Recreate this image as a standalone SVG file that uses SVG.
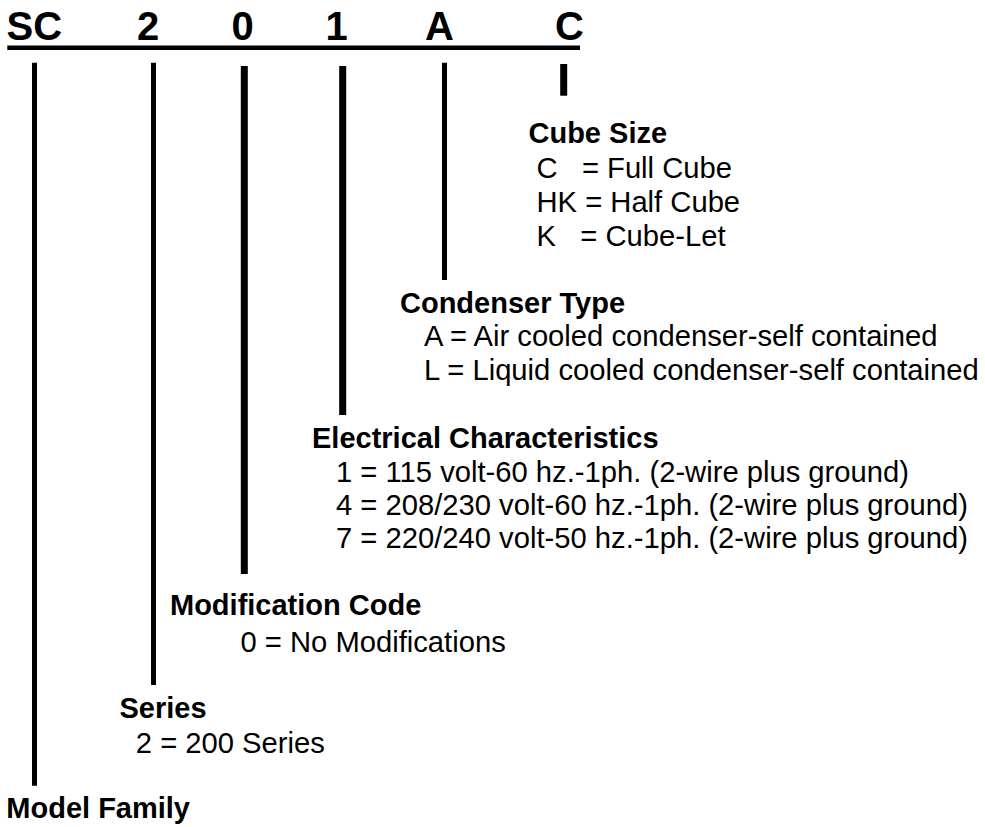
<svg xmlns="http://www.w3.org/2000/svg" width="985" height="827" viewBox="0 0 985 827">
  <style>
    text { font-family: "Liberation Sans", Arial, Helvetica, sans-serif; fill: #000; }
    .code { font-size: 40px; font-weight: bold; }
    .title { font-size: 29px; font-weight: bold; }
    .item { font-size: 29.2px; }
    .lead { stroke: #000; stroke-width: 5; fill: none; }
    .lead.heavy { stroke-width: 7; }
  </style>
  <rect width="985" height="827" fill="#fff"/>

  <g id="model-code">
    <text class="code"><tspan x="6.5" y="40">SC</tspan><tspan x="137" y="40">2</tspan><tspan x="231.5" y="40">0</tspan><tspan x="325.6" y="40">1</tspan><tspan x="425" y="40">A</tspan><tspan x="555" y="40">C</tspan></text>
    <line x1="7.3" y1="47.7" x2="580" y2="47.7" stroke="#000" stroke-width="4.5"/>
  </g>

  <g id="connectors">
    <line class="lead" x1="34.5" y1="62.7" x2="34.5" y2="785.7"/>
    <line class="lead" x1="153.5" y1="62.7" x2="153.5" y2="685"/>
    <line class="lead heavy" x1="244.3" y1="66" x2="244.3" y2="574"/>
    <line class="lead heavy" x1="342.7" y1="66" x2="342.7" y2="415"/>
    <line class="lead" x1="444.5" y1="62.7" x2="444.5" y2="280"/>
    <line class="lead heavy" x1="563.7" y1="64" x2="563.7" y2="95.7"/>
  </g>

  <g id="cube-size">
    <text class="title" x="528.5" y="143">Cube Size</text>
    <text class="item" x="536.5" y="178">C&#160;&#160;&#160;= Full Cube</text>
    <text class="item" x="536.5" y="212">HK = Half Cube</text>
    <text class="item" x="536.5" y="246">K&#160;&#160;&#160;= Cube-Let</text>
  </g>

  <g id="condenser-type">
    <text class="title" x="400" y="313">Condenser Type</text>
    <text class="item" x="424" y="346">A = Air cooled condenser-self contained</text>
    <text class="item" x="424" y="380">L = Liquid cooled condenser-self contained</text>
  </g>

  <g id="electrical-characteristics">
    <text class="title" x="312" y="448">Electrical Characteristics</text>
    <text class="item" x="336" y="482">1 = 115 volt-60 hz.-1ph. (2-wire plus ground)</text>
    <text class="item" x="336" y="515">4 = 208/230 volt-60 hz.-1ph. (2-wire plus ground)</text>
    <text class="item" x="336" y="548">7 = 220/240 volt-50 hz.-1ph. (2-wire plus ground)</text>
  </g>

  <g id="modification-code">
    <text class="title" x="170" y="615">Modification Code</text>
    <text class="item" x="240.5" y="652">0 = No Modifications</text>
  </g>

  <g id="series">
    <text class="title" x="119.5" y="718">Series</text>
    <text class="item" x="135.8" y="753">2 = 200 Series</text>
  </g>

  <g id="model-family">
    <text class="title" x="6.3" y="818">Model Family</text>
  </g>
</svg>
